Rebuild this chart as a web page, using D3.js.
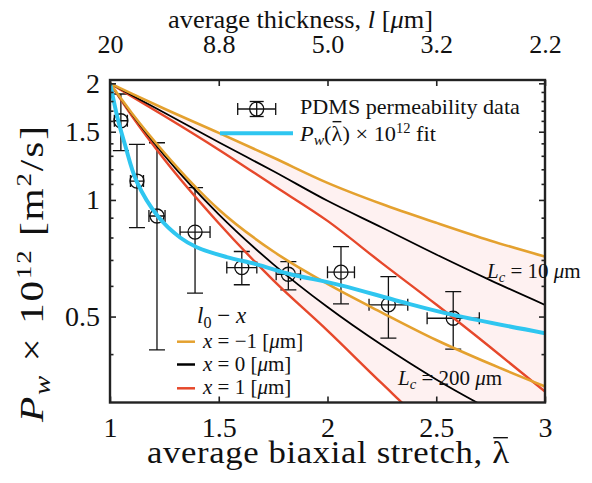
<!DOCTYPE html>
<html><head><meta charset="utf-8">
<script src="https://cdn.jsdelivr.net/npm/d3@7"></script>
<style>
body{margin:0;background:#fff}
svg{display:block}
text{font-family:"Liberation Serif","Times New Roman",serif;fill:#111}
</style>
</head><body>
<svg id="c" width="592" height="483"></svg>
<script>
// ---------- data ----------
const lambdaGrid   = [1, 1.1, 1.25, 1.5, 1.75, 2, 2.25, 2.5, 2.75, 3];
const orangeLc10   = [2.0, 1.881, 1.72, 1.49, 1.287, 1.107, 0.976, 0.873, 0.785, 0.714];
const blackLc10    = [2.0, 1.863, 1.679, 1.409, 1.188, 0.995, 0.849, 0.723, 0.62, 0.536];
const redLc10      = [2.0, 1.849, 1.647, 1.348, 1.091, 0.883, 0.687, 0.537, 0.416, 0.320];
const orangeLc200  = [2.0, 1.677, 1.324, 0.945, 0.737, 0.607, 0.512, 0.435, 0.377, 0.330];
const blackLc200   = [2.0, 1.666, 1.303, 0.918, 0.683, 0.529, 0.422, 0.344, 0.287, 0.243];
const redLc200     = [2.0, 1.649, 1.272, 0.871, 0.621, 0.460, 0.336, 0.248, 0.19, 0.15];

const fitLambda = [1.0, 1.008, 1.037, 1.069, 1.123, 1.221, 1.322, 1.399, 1.537, 1.675, 1.812, 2.062, 2.333, 2.577, 3.0];
const fitP      = [2.003, 1.907, 1.608, 1.388, 1.115, 0.906, 0.800, 0.755, 0.712, 0.682, 0.647, 0.602, 0.547, 0.505, 0.453];

const dataLambda    = [1.05, 1.124, 1.216, 1.391, 1.606, 1.82, 2.062, 2.28, 2.578];
const dataLambdaErr = [0.03, 0.03, 0.037, 0.069, 0.069, 0.056, 0.062, 0.089, 0.12];
const dataP         = [1.601, 1.119, 0.909, 0.826, 0.669, 0.643, 0.651, 0.536, 0.495];
const dataPLow      = [1.340, 0.848, 0.410, 0.575, 0.604, 0.586, 0.539, 0.440, 0.412];
const dataPHigh     = [1.877, 1.392, 1.405, 1.076, 0.736, 0.693, 0.758, 0.634, 0.580];

const xTicks        = [1, 1.5, 2, 2.5, 3];
const xTickLabels   = ["1", "1.5", "2", "2.5", "3"];
const topTickLabels = ["20", "8.8", "5.0", "3.2", "2.2"];
const yMajor        = [0.5, 1, 1.5, 2];
const yMajorLabels  = ["0.5", "1", "1.5", "2"];
const yMinor        = [0.4, 0.6, 0.7, 0.8, 0.9, 1.1, 1.2, 1.3, 1.4, 1.6, 1.7, 1.8, 1.9];

// ---------- layout ----------
const L = 110, R = 545, T = 80, B = 402.5;
const cOrange = "#e4a12f", cBlack = "#000", cRed = "#e6482b", cCyan = "#2fc6f0";
const svg = d3.select("#c");
const x = d3.scaleLinear().domain([1, 3]).range([L, R]);
const y = d3.scaleLog().domain([0.3, 2.04]).range([B, T]);

svg.append("defs").append("clipPath").attr("id", "clip")
  .append("rect").attr("x", L).attr("y", T).attr("width", R - L).attr("height", B - T);
const plot = svg.append("g").attr("clip-path", "url(#clip)");

const zipG = arr => lambdaGrid.map((l, i) => [l, arr[i]]);
const line = d3.line().x(d => x(d[0])).y(d => y(d[1])).curve(d3.curveMonotoneX);
const area = d3.area().x(d => x(d[0])).y0(d => y(d[1])).y1(d => y(d[2])).curve(d3.curveMonotoneX);

// pink bands
[[orangeLc10, redLc10], [orangeLc200, redLc200]].forEach(([a, b]) => {
  plot.append("path")
    .datum(lambdaGrid.map((l, i) => [l, a[i], b[i]]))
    .attr("d", area).attr("fill", "rgb(248,170,170)").attr("fill-opacity", 0.16);
});

// error bars
const eb = plot.append("g").attr("stroke", "#111").attr("stroke-width", 1.3).attr("fill", "none");
dataLambda.forEach((l, i) => {
  const cx = x(l), cy = y(dataP[i]);
  const yl = y(dataPLow[i]), yh = y(dataPHigh[i]);
  const xl = x(l - dataLambdaErr[i]), xh = x(l + dataLambdaErr[i]);
  eb.append("line").attr("x1", cx).attr("x2", cx).attr("y1", yh).attr("y2", yl);
  eb.append("line").attr("x1", cx - 8).attr("x2", cx + 8).attr("y1", yh).attr("y2", yh);
  eb.append("line").attr("x1", cx - 8).attr("x2", cx + 8).attr("y1", yl).attr("y2", yl);
  eb.append("line").attr("x1", xl).attr("x2", xh).attr("y1", cy).attr("y2", cy);
  eb.append("line").attr("x1", xl).attr("x2", xl).attr("y1", cy - 6).attr("y2", cy + 6);
  eb.append("line").attr("x1", xh).attr("x2", xh).attr("y1", cy - 6).attr("y2", cy + 6);
  eb.append("circle").attr("cx", cx).attr("cy", cy).attr("r", 7);
});

// model curves
[[redLc10, cRed, 2.4], [blackLc10, cBlack, 1.8], [orangeLc10, cOrange, 2.6],
 [redLc200, cRed, 2.4], [blackLc200, cBlack, 1.8], [orangeLc200, cOrange, 2.6]].forEach(([arr, c, w]) => {
  plot.append("path").datum(zipG(arr)).attr("d", line)
    .attr("fill", "none").attr("stroke", c).attr("stroke-width", w);
});

// fit
plot.append("path").datum(fitLambda.map((l, i) => [l, fitP[i]]))
  .attr("d", d3.line().x(d => x(d[0])).y(d => y(d[1])).curve(d3.curveCatmullRom))
  .attr("fill", "none").attr("stroke", cCyan).attr("stroke-width", 4);

// ---------- axes ----------
function styleAxis(fs) {
  return g => {
    g.select(".domain").remove();
    g.selectAll(".tick line").attr("stroke", "#222").attr("stroke-width", 1.6);
    g.selectAll("text").attr("font-family", '"Liberation Serif", serif').attr("font-size", fs).attr("fill", "#111");
  };
}
svg.append("g").attr("transform", `translate(0,${B})`)
  .call(d3.axisBottom(x).tickValues(xTicks).tickFormat((d, i) => xTickLabels[i]).tickSize(-6).tickPadding(15))
  .call(styleAxis(28));
svg.append("g").attr("transform", `translate(0,${T})`)
  .call(d3.axisTop(x).tickValues(xTicks).tickFormat((d, i) => topTickLabels[i]).tickSize(-6).tickPadding(27))
  .call(styleAxis(26));
svg.append("g").attr("transform", `translate(${L},0)`)
  .call(d3.axisLeft(y).tickValues(yMajor).tickFormat((d, i) => yMajorLabels[i]).tickSize(-6).tickPadding(10))
  .call(styleAxis(28));
svg.append("g").attr("transform", `translate(${L},0)`)
  .call(d3.axisLeft(y).tickValues(yMinor).tickFormat("").tickSize(-3.5))
  .call(styleAxis(28));
svg.append("g").attr("transform", `translate(${R},0)`)
  .call(d3.axisRight(y).tickValues(yMajor).tickFormat("").tickSize(-6))
  .call(styleAxis(28));
svg.append("g").attr("transform", `translate(${R},0)`)
  .call(d3.axisRight(y).tickValues(yMinor).tickFormat("").tickSize(-3.5))
  .call(styleAxis(28));
svg.append("rect").attr("x", L).attr("y", T).attr("width", R - L).attr("height", B - T)
  .attr("fill", "none").attr("stroke", "#222").attr("stroke-width", 2.4);

// ---------- text helpers ----------
function addParts(t, parts) {
  parts.forEach(p => {
    const s = t.append("tspan").text(p.t);
    if (p.i) s.attr("font-style", "italic");
    if (p.fs) s.attr("font-size", p.fs);
    if (p.dy) s.attr("dy", p.dy);
  });
  return t;
}
const SUB = (t, i) => ({t, i, fs: "0.7em", dy: "0.3em"});
const AFTER_SUB = t => ({t, dy: "-0.21em"});
const SUP = t => ({t, fs: "0.65em", dy: "-0.55em"});
const AFTER_SUP = t => ({t, dy: "0.3575em"});

// place a text in its own frame, sized to a target width: font up to maxFs,
// then a mild horizontal widening (serif glyphs of the original are wider), then spacing
function fitText(o) {
  const base = `translate(${o.x},${o.y})` + (o.rot ? ` rotate(${o.rot})` : "");
  const g = svg.append("g").attr("transform", base);
  const t = g.append("text").attr("text-anchor", o.anchor || "start").attr("font-size", o.maxFs);
  addParts(t, o.parts);
  const len = t.node().getComputedTextLength();
  if (len >= o.target) {
    t.attr("font-size", o.maxFs * o.target / len);
  } else {
    const s = Math.min(o.maxStretch || 1.15, o.target / len);
    g.attr("transform", base + ` scale(${s},1)`);
    if (len * s < o.target - 2) t.attr("textLength", o.target / s).attr("lengthAdjust", "spacing");
  }
  return {g, t};
}
function overline(ft, idx, dyUp) {
  const ex = ft.t.node().getExtentOfChar(idx);
  ft.g.append("line").attr("x1", ex.x + 1).attr("x2", ex.x + ex.width - 1)
    .attr("y1", ex.y + dyUp).attr("y2", ex.y + dyUp).attr("stroke", "#111").attr("stroke-width", 1.4);
}

// ---------- titles ----------
fitText({x: 300.5, y: 28, anchor: "middle", target: 265, maxFs: 25,
  parts: [{t: "average thickness, "}, {t: "l", i: 1}, {t: " ["}, {t: "μ", i: 1}, {t: "m]"}]});

const botParts = [{t: "average biaxial stretch, "}, {t: "λ"}];
const botTitle = fitText({x: 328, y: 463, anchor: "middle", target: 362, maxFs: 31, maxStretch: 1.12, parts: botParts});
overline(botTitle, "average biaxial stretch, λ".length - 1, 2);

fitText({x: 43, y: 274, rot: -90, anchor: "middle", target: 296, maxFs: 33, maxStretch: 1.25,
  parts: [{t: "P", i: 1}, SUB("w", 1), AFTER_SUB(" × 10"), SUP("12"), AFTER_SUP(" [m"), SUP("2"), AFTER_SUP("/s]")]});

// ---------- legend (top) ----------
const lx = 256.7, ly = 109;
const lg = svg.append("g").attr("stroke", "#111").attr("stroke-width", 1.3).attr("fill", "none");
lg.append("line").attr("x1", lx - 19).attr("x2", lx + 19).attr("y1", ly).attr("y2", ly);
lg.append("line").attr("x1", lx - 19).attr("x2", lx - 19).attr("y1", ly - 6).attr("y2", ly + 6);
lg.append("line").attr("x1", lx + 19).attr("x2", lx + 19).attr("y1", ly - 6).attr("y2", ly + 6);
lg.append("line").attr("x1", lx).attr("x2", lx).attr("y1", ly - 7.5).attr("y2", ly + 7.5);
lg.append("line").attr("x1", lx - 7).attr("x2", lx + 7).attr("y1", ly - 7.5).attr("y2", ly - 7.5);
lg.append("line").attr("x1", lx - 7).attr("x2", lx + 7).attr("y1", ly + 7.5).attr("y2", ly + 7.5);
lg.append("circle").attr("cx", lx).attr("cy", ly).attr("r", 7);
fitText({x: 300, y: 114, target: 220, maxFs: 22, parts: [{t: "PDMS permeability data"}]});
svg.append("line").attr("x1", 220).attr("x2", 293).attr("y1", 133.3).attr("y2", 133.3)
  .attr("stroke", cCyan).attr("stroke-width", 4);
const fitLab = fitText({x: 300, y: 140.5, target: 136, maxFs: 22,
  parts: [{t: "P", i: 1}, SUB("w", 1), AFTER_SUB("("), {t: "λ"}, {t: ") × 10"}, SUP("12"), AFTER_SUP(" fit")]});
overline(fitLab, 3, 1);

// ---------- legend (bottom-left) ----------
const l0 = svg.append("text").attr("x", 197).attr("y", 323).attr("font-size", 23);
addParts(l0, [{t: "l", i: 1}, SUB("0"), AFTER_SUB(" − "), {t: "x", i: 1}]);
const rows = [[cOrange, "−1", 341.7, 347.5], [cBlack, "0", 364.5, 370.8], [cRed, "1", 388.3, 394]];
rows.forEach(([c, v, yl, yt]) => {
  svg.append("line").attr("x1", 177).attr("x2", 195).attr("y1", yl).attr("y2", yl)
    .attr("stroke", c).attr("stroke-width", 2.5);
  const t = svg.append("text").attr("x", 203).attr("y", yt).attr("font-size", 21);
  addParts(t, [{t: "x", i: 1}, {t: " = " + v + " ["}, {t: "μ", i: 1}, {t: "m]"}]);
});

// ---------- L_c labels ----------
const lc1 = svg.append("text").attr("x", 487).attr("y", 278).attr("font-size", 21);
addParts(lc1, [{t: "L", i: 1}, SUB("c", 1), AFTER_SUB(" = 10 "), {t: "μ", i: 1}, {t: "m"}]);
const lc2 = svg.append("text").attr("x", 398).attr("y", 385).attr("font-size", 21);
addParts(lc2, [{t: "L", i: 1}, SUB("c", 1), AFTER_SUB(" = 200 "), {t: "μ", i: 1}, {t: "m"}]);
</script>
</body></html>
